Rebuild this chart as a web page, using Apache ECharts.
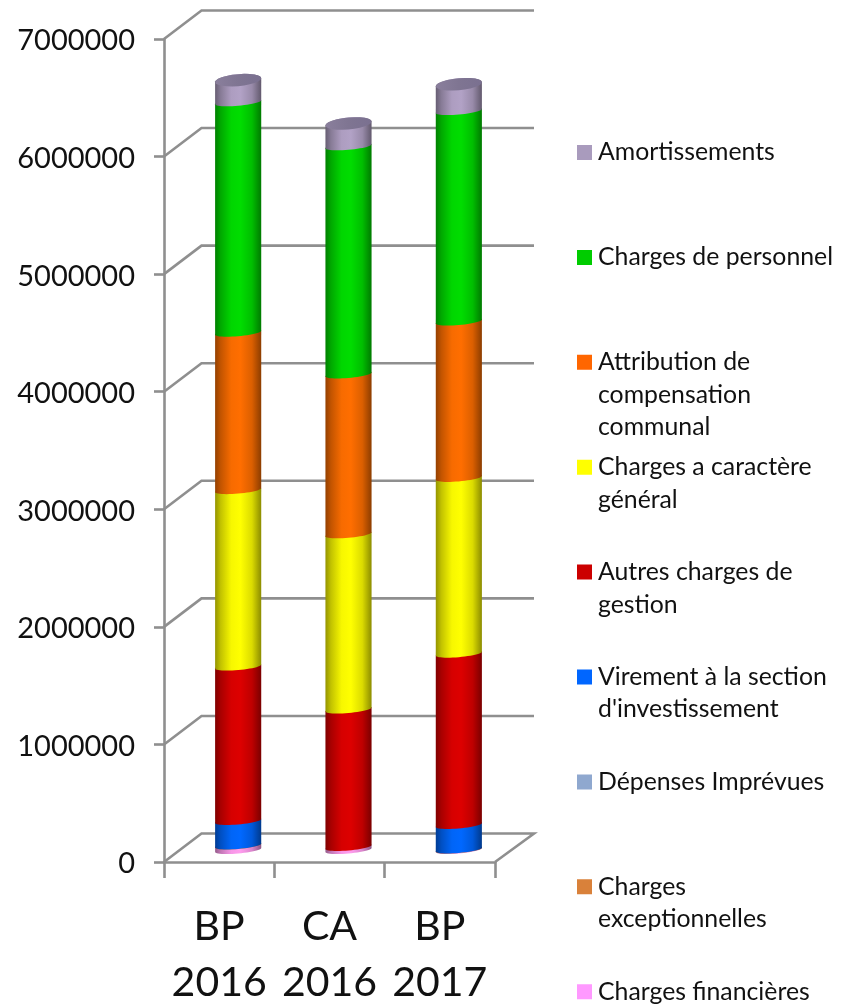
<!DOCTYPE html>
<html>
<head>
<meta charset="utf-8">
<style>html,body{margin:0;padding:0;background:#fff}#c{width:846px;height:1005px}</style>
<script src="https://cdn.jsdelivr.net/npm/echarts@6/dist/echarts.min.js"></script>
</head>
<body>
<div id="c"></div>
<script>
const categories = ['BP\n2016', 'CA\n2016', 'BP\n2017'];
const yTicks = [0, 1000000, 2000000, 3000000, 4000000, 5000000, 6000000, 7000000];

// Stacked from the bottom upward
const chargesFinancieres    = [38000, 26000, 4000];
const chargesExceptionnelles = [1000, 0, 1000];
const depensesImprevues     = [0, 0, 0];
const virement              = [208000, 0, 208000];
const autresCharges         = [1313000, 1169000, 1457000];
const chargesGenerales      = [1501000, 1490000, 1495000];
const attribution           = [1339000, 1360000, 1330000];
const chargesPersonnel      = [1960000, 1940000, 1790000];
const amortissements        = [188000, 194000, 228000];

const stackSeries = [
  { name: 'Charges financières', values: chargesFinancieres, icon: '#FF99FF', face: '#FF9CEE', row: 8 },
  { name: 'Charges exceptionnelles', values: chargesExceptionnelles, icon: '#D9813A', face: '#E08A40', row: 7, wrap: 'Charges\nexceptionnelles' },
  { name: 'Dépenses Imprévues', values: depensesImprevues, icon: '#8FA8CF', face: '#8FA8CF', row: 6 },
  { name: "Virement à la section d'investissement", values: virement, icon: '#0066FF', face: '#0068FF', row: 5, wrap: "Virement à la section\nd'investissement" },
  { name: 'Autres charges de gestion', values: autresCharges, icon: '#CC0000', face: '#DD0000', row: 4, wrap: 'Autres charges de\ngestion' },
  { name: 'Charges a caractère général', values: chargesGenerales, icon: '#FFFF00', face: '#FFFF00', row: 3, wrap: 'Charges a caractère\ngénéral' },
  { name: 'Attribution de compensation communal', values: attribution, icon: '#FF6600', face: '#FF6E00', row: 2, wrap: 'Attribution de\ncompensation\ncommunal' },
  { name: 'Charges de personnel', values: chargesPersonnel, icon: '#00CC00', face: '#00DD00', row: 1 },
  { name: 'Amortissements', values: amortissements, icon: '#A99BBD', face: '#B2A2C6', row: 0 }
];

const FONT = 'Lato';
const GREY = '#8f8f8f';
const DEPTH_X = 37.5, DEPTH_X_RIGHT = 39, DEPTH_Y = 28.5;      // wall depth
const BAR_DX = 19, BAR_DY = 12;            // bars stand mid-depth
const LEGEND_LINE = 32.5;

function shade(hex, f) {
  const n = parseInt(hex.slice(1), 16);
  const p = s => Math.round(((n >> s) & 255) * f);
  return 'rgb(' + p(16) + ',' + p(8) + ',' + p(0) + ')';
}
function cylinderFill(hex) {
  return new echarts.graphic.LinearGradient(0, 0, 1, 0, [
    { offset: 0, color: shade(hex, 0.58) },
    { offset: 0.12, color: shade(hex, 0.76) },
    { offset: 0.35, color: shade(hex, 0.97) },
    { offset: 0.55, color: shade(hex, 1) },
    { offset: 0.8, color: shade(hex, 0.86) },
    { offset: 1, color: shade(hex, 0.55) }
  ]);
}
function arc(cx, cy, a, b, s, from, to) {
  const pts = [];
  const N = 24;
  for (let i = 0; i <= N; i++) {
    const t = from + (to - from) * i / N;
    pts.push([cx + a * Math.cos(t), cy + b * Math.sin(t) - s * Math.cos(t)]);
  }
  return pts;
}

function wallRender(params, api) {
  const cs = params.coordSys;
  const v = api.value(1);
  const y = api.coord([0, v])[1];
  const L = cs.x, R = cs.x + cs.width;
  const style = { stroke: GREY, lineWidth: 2.6, fill: null };
  const pts = [[L, y], [L + DEPTH_X, y - DEPTH_Y], [R + DEPTH_X_RIGHT, y - DEPTH_Y]];
  if (v === 0) pts.push([R, y]);
  return { type: 'polyline', shape: { points: pts }, style: style, silent: true };
}

function segmentRender(idx) {
  return function (params, api) {
    const cat = api.value(0), lo = api.value(1), hi = api.value(2);
    const band = api.size([1, 0])[0];
    const a = band * 0.209;
    const p0 = api.coord([cat, lo]), p1 = api.coord([cat, hi]);
    const cx = p0[0] + BAR_DX;
    const y0 = p0[1] - BAR_DY, y1 = p1[1] - BAR_DY;
    const isTop = idx === stackSeries.length - 1;
    const s = 2, b = 3.5;
    const children = [];
    if (hi > lo) {
      // front arc along the bottom, back arc along the top (covered by the next piece)
      const bottom = arc(cx, y0, a, b, s, 0, Math.PI);
      const top = arc(cx, y1, a, isTop ? 6 : b, s, Math.PI, 2 * Math.PI);
      children.push({
        type: 'polygon',
        shape: { points: bottom.concat(top) },
        style: { fill: cylinderFill(stackSeries[idx].face) }
      });
    }
    if (isTop) {
      children.push({
        type: 'polygon',
        shape: { points: arc(cx, y1, a, 6, s, 0, 2 * Math.PI) },
        style: {
          fill: new echarts.graphic.LinearGradient(0, 0, 1, 0, [
            { offset: 0, color: '#8a7f9c' },
            { offset: 0.5, color: '#7f7592' },
            { offset: 1, color: '#7a7090' }
          ])
        }
      });
    }
    return { type: 'group', children: children, silent: true };
  };
}

const wallSeries = {
  type: 'custom',
  name: 'walls',
  silent: true,
  clip: false,
  z: 1,
  renderItem: wallRender,
  data: yTicks.map(v => [0, v]),
  encode: { x: 0, y: 1 }
};

const cylSeries = stackSeries.map(function (s, idx) {
  return {
    type: 'custom',
    name: s.name,
    clip: false,
    z: 2,
    itemStyle: { color: s.icon },
    renderItem: segmentRender(idx),
    encode: { x: 0, y: [1, 2] },
    data: categories.map(function (c, i) {
      let lo = 0;
      for (let k = 0; k < idx; k++) lo += stackSeries[k].values[i];
      return [i, lo, lo + s.values[i]];
    })
  };
});

function legendFor(s) {
  const lines = (s.wrap || s.name).split('\n').length;
  const H = lines * LEGEND_LINE;
  const t = (LEGEND_LINE - 15) / 2;
  return {
    show: true,
    orient: 'vertical',
    left: 577,
    top: 135.25 + s.row * 104.9,
    padding: 0,
    itemWidth: 15,
    itemHeight: H,
    itemGap: 0,
    selectedMode: false,
    data: [{
      name: s.name,
      icon: 'path://M0 0L0.01 0ZM0 ' + t + 'H15V' + (t + 15) + 'H0ZM0 ' + H + 'L0.01 ' + H + 'Z'
    }],
    formatter: function () { return s.wrap || s.name; },
    textStyle: { fontFamily: FONT, fontSize: 24.8, color: '#111', lineHeight: LEGEND_LINE, padding: [2, 0, 0, 1] }
  };
}

const chart = echarts.init(document.getElementById('c'), null, { renderer: 'canvas' });
chart.setOption({
  animation: false,
  backgroundColor: '#fff',
  grid: { left: 164, top: 39, width: 331, height: 823, containLabel: false, outerBoundsMode: 'none' },
  legend: stackSeries.map(legendFor),
  xAxis: {
    type: 'category',
    data: categories,
    boundaryGap: true,
    axisLine: { show: true, lineStyle: { color: GREY, width: 2.6 } },
    axisTick: { show: true, length: 16, lineStyle: { color: GREY, width: 2.6 } },
    axisLabel: { color: '#111', fontFamily: FONT, fontSize: 41, lineHeight: 56, margin: 37, interval: 0 }
  },
  yAxis: {
    type: 'value',
    min: 0,
    max: 7000000,
    interval: 1000000,
    splitLine: { show: false },
    axisLine: { show: true, lineStyle: { color: GREY, width: 2.6 } },
    axisTick: { show: true, length: 10, lineStyle: { color: GREY, width: 2.6 } },
    axisLabel: {
      color: '#111',
      fontFamily: FONT,
      fontSize: 29,
      margin: 29,
      formatter: v => '{n|' + v + '}',
      rich: { n: { fontFamily: FONT, fontSize: 29, color: '#111', padding: [4, 0, 0, 0] } }
    }
  },
  series: [wallSeries].concat(cylSeries)
});
</script>
</body>
</html>
